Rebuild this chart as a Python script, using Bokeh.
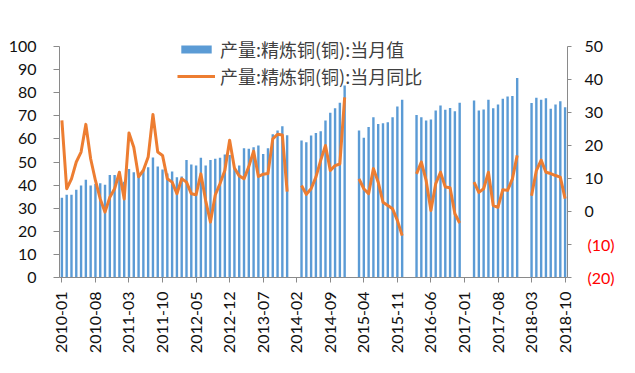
import numpy as np
from bokeh.plotting import figure
from bokeh.models import (Range1d, LinearAxis, FixedTicker, Legend, LegendItem,
                          ColumnDataSource)
from bokeh.embed import file_html
from bokeh.resources import INLINE

# ---- data -------------------------------------------------------------
months = [f"{y}-{m:02d}" for y in range(2010, 2019) for m in range(1, 13)][:106]

# 产量:精炼铜(铜):当月值 (left axis)
bar_vals = [
    34.5, 35.8, 35.8, 38.0, 39.8, 42.3, 39.8, 40.5, 40.8, 40.2, 44.4, 44.4,   # 2010
    45.8, 41.5, 47.0, 45.6, 44.0, 46.5, 47.7, 51.9, 48.0, 46.8, 45.0, 45.9,   # 2011
    43.4, 43.7, 50.9, 48.9, 48.5, 51.8, 48.5, 50.9, 51.4, 51.8, 53.2, 53.0,   # 2012
    47.5, 48.5, 55.9, 55.7, 56.4, 57.1, 53.5, 56.0, 62.0, 63.6, 65.5, 61.6,   # 2013
    None, None, 59.3, 58.6, 61.5, 62.6, 63.3, 68.0, 71.3, 73.3, 75.6, 83.1,   # 2014
    None, None, 63.6, 60.5, 65.1, 69.4, 66.5, 66.8, 67.2, 69.4, 74.0, 76.9,   # 2015
    None, None, 70.4, 69.4, 68.0, 68.4, 72.3, 74.5, 72.6, 73.4, 72.0, 75.6,   # 2016
    None, None, 76.6, 72.3, 72.7, 76.9, 73.3, 74.9, 77.4, 78.4, 78.6, 86.4,   # 2017
    None, None, 75.5, 77.8, 76.9, 77.6, 73.0, 74.9, 76.3, 73.7,               # 2018
]

# 产量:精炼铜(铜):当月同比 (right axis)
yoy_vals = [
    27.6, 6.9, 9.9, 15.0, 18.0, 26.4, 16.0, 9.4, 3.8, -0.2, 4.3, 6.9,         # 2010
    11.9, 3.8, 23.8, 19.5, 10.5, 12.5, 16.5, 29.4, 18.0, 17.0, 9.9, 8.9,      # 2011
    5.4, 9.9, 8.9, 5.4, 5.1, 11.4, 3.3, -3.2, 5.0, 8.5, 12.4, 21.6,           # 2012
    13.2, 10.8, 9.9, 13.6, 18.3, 10.6, 11.3, 11.5, 22.0, 23.4, 23.2, 6.0,     # 2013
    None, None, 7.9, 5.2, 6.9, 10.4, 15.5, 20.0, 12.4, 13.9, 14.4, 34.6,      # 2014
    None, None, 9.9, 6.9, 5.4, 13.0, 8.9, 2.8, 1.8, 0.8, -2.7, -7.3,          # 2015
    None, None, 11.4, 15.0, 9.4, 0.3, 8.4, 11.9, 7.4, 7.2, -0.7, -3.5,        # 2016
    None, None, 8.9, 5.8, 6.9, 11.9, 1.8, 1.3, 6.6, 6.4, 9.9, 17.0,           # 2017
    None, None, 4.8, 12.4, 15.6, 11.9, 11.5, 10.9, 10.4, 3.9,                 # 2018
]

tick_labels = ["2010-01", "2010-08", "2011-03", "2011-10", "2012-05", "2012-12",
               "2013-07", "2014-02", "2014-09", "2015-04", "2015-11", "2016-06",
               "2017-01", "2017-08", "2018-03", "2018-10"]
left_ticks = [0, 10, 20, 30, 40, 50, 60, 70, 80, 90, 100]
right_ticks = [0, 10, 20, 30, 40, 50]
neg_labels = {-10: "(10)", -20: "(20)"}

legend_bar = "产量:精炼铜(铜):当月值"
legend_line = "产量:精炼铜(铜):当月同比"

# ---- styling ----------------------------------------------------------
BAR = "#5B9BD5"
LINE = "#ED7D31"
AX = "#8a8a8a"
FONT = "Lato"
TXT = "#111111"

N = len(months)
xs = list(range(N))
src = ColumnDataSource(dict(
    x=xs,
    bar=[np.nan if v is None else v for v in bar_vals],
    yoy=[np.nan if v is None else v for v in yoy_vals],
))

W, H = 627, 365
FL, FT, FR, FB = 59, 30, 567, 277      # frame edges on the canvas
Y0 = 46                                 # where 100 / 50 sit
ppu_l = (FB - Y0) / 100.0
ppu_r = (FB - Y0) / 70.0
p = figure(width=W, height=H, output_backend="svg", toolbar_location=None,
           x_range=Range1d(-0.5, N - 0.5),
           y_range=Range1d(0, 100 + (Y0 - FT) / ppu_l),
           min_border_left=FL, min_border_right=W - FR, min_border_top=FT,
           min_border_bottom=H - FB)
p.extra_y_ranges = {"right": Range1d(-20, 50 + (Y0 - FT) / ppu_r)}
p.outline_line_color = None
p.xgrid.visible = False
p.ygrid.visible = False
p.background_fill_color = "white"
p.border_fill_color = "white"

bars = p.vbar(x="x", top="bar", width=0.5, source=src, fill_color=BAR,
              line_color=None)
line = p.line(x="x", y="yoy", source=src, y_range_name="right",
              line_color=LINE, line_width=3, line_join="round")

# x axis
pos = [months.index(t) for t in tick_labels]
xa = p.xaxis[0]
xa.ticker = FixedTicker(ticks=pos)
xa.major_label_overrides = {i: t for i, t in zip(pos, tick_labels)}
xa.major_label_orientation = np.pi / 2
xa.minor_tick_line_color = None
xa.axis_line_color = AX
xa.major_tick_line_color = AX
xa.major_tick_out = 5
xa.major_tick_in = 0
xa.major_label_standoff = 9
xa.major_label_text_font = FONT
xa.major_label_text_font_size = "16px"
xa.major_label_text_color = TXT

# left axis
ya = p.yaxis[0]
ya.ticker = FixedTicker(ticks=left_ticks)
ya.bounds = (0, 100)
ya.minor_tick_line_color = None
ya.axis_line_color = AX
ya.major_tick_line_color = AX
ya.major_tick_out = 6
ya.major_tick_in = 0
ya.major_label_standoff = 17
ya.major_label_text_font = FONT
ya.major_label_text_font_size = "16px"
ya.major_label_text_color = TXT

# right axis (line, all ticks, black labels for 0..50)
ra = LinearAxis(y_range_name="right",
                ticker=FixedTicker(ticks=right_ticks + list(neg_labels)),
                major_label_overrides={k: "" for k in neg_labels})
ra.bounds = (-20, 50)
ra.minor_tick_line_color = None
ra.axis_line_color = AX
ra.major_tick_line_color = AX
ra.major_tick_out = 4
ra.major_tick_in = 0
ra.major_label_standoff = 13
ra.major_label_text_font = FONT
ra.major_label_text_font_size = "16px"
ra.major_label_text_color = TXT
p.add_layout(ra, "right")

# second right axis: only the red negative labels, pulled back onto the first
ra2 = LinearAxis(y_range_name="right", ticker=FixedTicker(ticks=list(neg_labels)),
                 major_label_overrides=dict(neg_labels))
ra2.axis_line_color = None
ra2.major_tick_line_color = None
ra2.minor_tick_line_color = None
ra2.major_tick_out = 0
ra2.major_tick_in = 0
ra2.major_label_standoff = -19
ra2.major_label_text_font = FONT
ra2.major_label_text_font_size = "16px"
ra2.major_label_text_color = "#FF0000"
p.add_layout(ra2, "right")

legend = Legend(items=[LegendItem(label=legend_bar, renderers=[bars]),
                       LegendItem(label=legend_line, renderers=[line])],
                location=(118, 188), glyph_width=38, glyph_height=10,
                label_height=10, label_standoff=5, padding=0, margin=0,
                spacing=1, border_line_color=None, background_fill_alpha=0,
                label_text_font="Noto Sans CJK SC",
                label_text_font_size="18px", label_text_color="#404040")
p.add_layout(legend)

open("out.html", "w").write(file_html(p, INLINE))
